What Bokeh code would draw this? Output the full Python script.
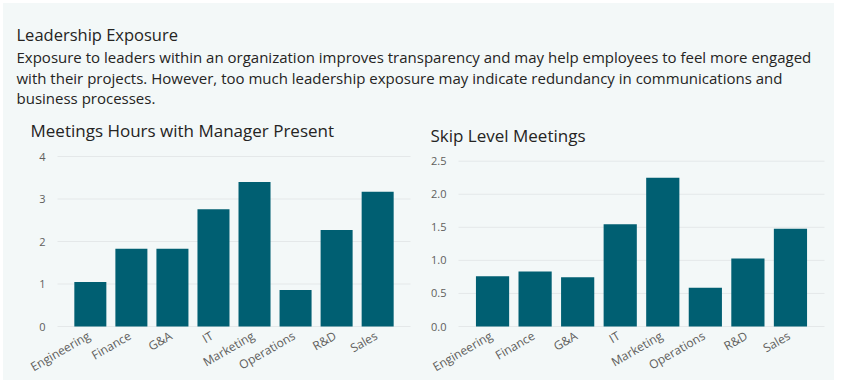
from bokeh.plotting import figure
from bokeh.layouts import column, row
from bokeh.models import Range1d, ColumnDataSource
from bokeh.core.properties import value
from bokeh.embed import file_html
from bokeh.resources import INLINE

# ---- data ----
departments = ["Engineering", "Finance", "G&A", "IT", "Marketing", "Operations", "R&D", "Sales"]
manager_hours = [1.05, 1.83, 1.83, 2.76, 3.40, 0.86, 2.27, 3.17]
skip_level = [0.76, 0.83, 0.745, 1.545, 2.25, 0.585, 1.03, 1.48]
manager_ticks = [0, 1, 2, 3, 4]
manager_tick_labels = ["0", "1", "2", "3", "4"]
skip_ticks = [0, 0.5, 1.0, 1.5, 2.0, 2.5]
skip_tick_labels = ["0.0", "0.5", "1.0", "1.5", "2.0", "2.5"]

title_text = "Leadership Exposure"
subtitle_lines = [
    "Exposure to leaders within an organization improves transparency and may help employees to feel more engaged",
    "with their projects. However, too much leadership exposure may indicate redundancy in communications and",
    "business processes.",
]
chart1_title = "Meetings Hours with Manager Present"
chart2_title = "Skip Level Meetings"

# ---- style ----
BG = "#F3F8F8"
BAR = "#005F72"
GRID = "#E4E8E9"
DARK = "#252423"
GREY = "#605E5C"
FONT = "Open Sans"
PAD = 0.3          # category padding on each side
BAR_W = 0.78
ANGLE = 0.5236     # 30 degrees

# ---- header figure (pixel coordinates, y downward) ----
HW, HH = 831, 145
head = figure(width=HW, height=HH, output_backend="svg", toolbar_location=None,
              x_range=Range1d(0, HW), y_range=Range1d(HH, 0), frame_align=False,
              min_border=0, background_fill_color=BG, border_fill_color=BG)
head.axis.visible = False
head.grid.visible = False
head.outline_line_color = None

head.text(x=[13], y=[31.4], text=[title_text], text_font=value(FONT),
          text_font_size="16.5px", text_color=DARK, text_baseline="middle")
head.text(x=[13, 13, 13], y=[53.2, 74.2, 94.8], text=subtitle_lines, text_font=value(FONT),
          text_font_size="15px", text_color=DARK, text_baseline="middle")
head.text(x=[27], y=[127.4], text=[chart1_title], text_font=value(FONT),
          text_font_size="17px", text_color=DARK, text_baseline="middle")
head.text(x=[427], y=[132.4], text=[chart2_title], text_font=value(FONT),
          text_font_size="17px", text_color=DARK, text_baseline="middle")

CH = 232   # chart figure height
ZERO = 178  # pixel row of the zero line inside a chart figure


def bar_chart(values, ticks, tick_labels, width, bl, br, top_px):
    """Frame = whole figure; plot area from bl..width-br, ticks[-1] at top_px, 0 at ZERO."""
    n = len(departments)
    k = (width - bl - br) / (n + 2 * PAD)
    x0 = -PAD - bl / k
    x1 = n + PAD + br / k
    ymax = ticks[-1]
    s = (ZERO - top_px) / ymax
    y0 = -(CH - ZERO) / s
    y1 = ymax + top_px / s

    p = figure(width=width, height=CH, output_backend="svg", toolbar_location=None,
               x_range=Range1d(x0, x1), y_range=Range1d(y0, y1), frame_align=False,
               min_border=0, background_fill_color=BG, border_fill_color=BG)
    p.axis.visible = False
    p.grid.visible = False
    p.outline_line_color = None

    pos = [i + 0.5 for i in range(n)]
    src = ColumnDataSource(dict(pos=pos, dept=departments, val=values))

    # horizontal grid lines at the tick values
    gsrc = ColumnDataSource(dict(t=ticks, lab=tick_labels))
    p.segment(x0=-PAD, x1=n + PAD, y0="t", y1="t", source=gsrc,
              line_color=GRID, line_width=1)
    # bars
    p.vbar(x="pos", top="val", width=BAR_W, source=src, fill_color=BAR, line_color=None)
    # y tick labels
    p.text(x=-PAD, y="t", text="lab", source=gsrc, x_offset=-12,
           text_align="right", text_baseline="middle",
           text_font=value(FONT), text_font_size="11px", text_color=GREY)
    # rotated category labels
    p.text(x="pos", y=0, text="dept", source=src, angle=ANGLE,
           text_align="right", text_baseline="middle", x_offset=-1.5, y_offset=8,
           text_font=value(FONT), text_font_size="12px", text_color=GREY)
    return p


left = bar_chart(manager_hours, manager_ticks, manager_tick_labels, 415, 54, 8, 8)
right = bar_chart(skip_level, skip_ticks, skip_tick_labels, 416, 40, 10, 12.7)

layout = column(head, row(left, right, spacing=0, styles={"background-color": BG}),
                spacing=0, margin=(3, 0, 0, 3), styles={"background-color": BG})

open("out.html", "w").write(file_html(layout, INLINE))
